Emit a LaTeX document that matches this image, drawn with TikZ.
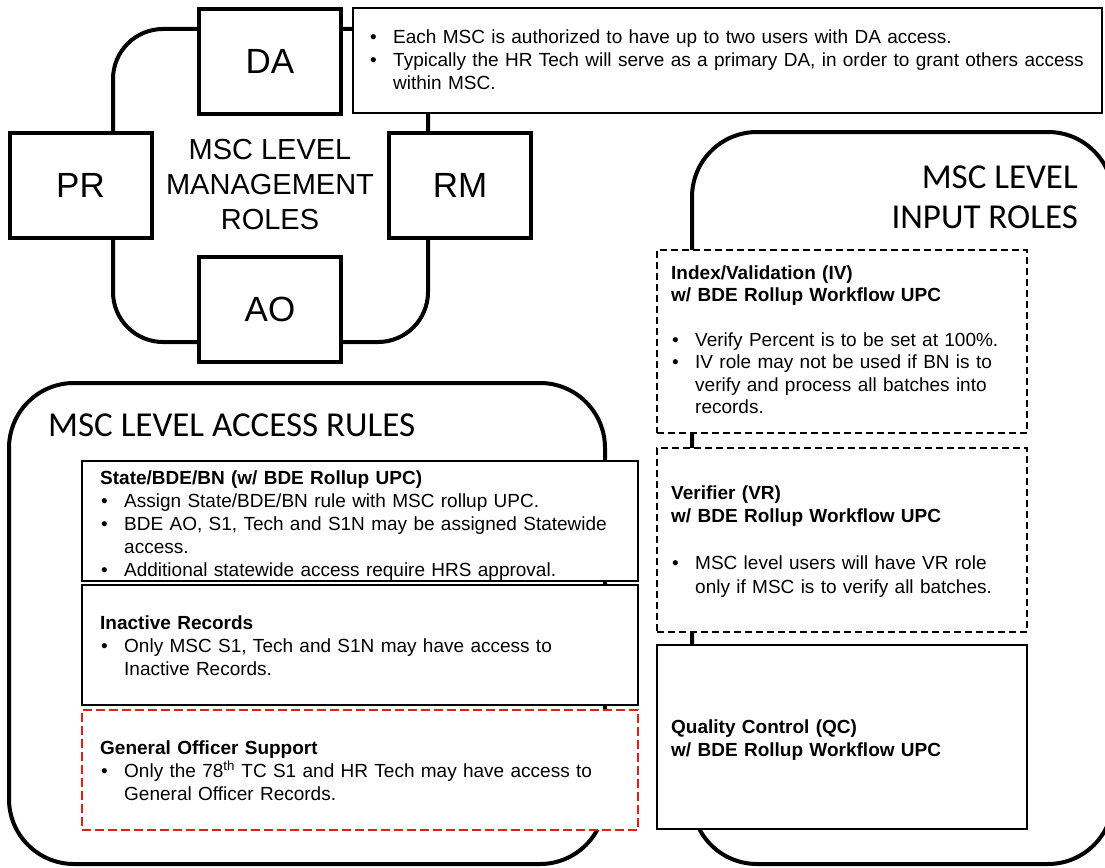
\documentclass[tikz,border=0pt]{standalone}
\usepackage{fontspec}
\setmainfont{Liberation Sans}
\newfontfamily\calfont{Carlito}
\definecolor{gored}{RGB}{228,28,28}
% bullet item with hanging indent (ends its own paragraph)
\newcommand\bl[1]{\hangindent=24pt\hangafter=1\noindent\makebox[24pt][l]{\hspace{1pt}\textbullet}#1\par}
\begin{document}
\begin{tikzpicture}[x=1pt,y=-1pt,
  frame/.style={draw, line width=4pt, inner sep=0pt, outer sep=0pt, anchor=north west},
  role/.style={draw, line width=4pt, fill=white, minimum width=142pt, minimum height=105pt,
    inner sep=0pt, outer sep=0pt, font=\fontsize{35}{40}\selectfont},
  panel/.style={draw, line width=1.8pt, fill=white, inner sep=0pt, outer sep=0pt, anchor=north west},
  dashpanel/.style={panel, line width=1.5pt, dash pattern=on 7pt off 4pt},
  redpanel/.style={panel, draw=gored, line width=1.8pt, dash pattern=on 9pt off 4pt},
  body/.style={anchor=base west, inner sep=0pt, align=left, font=\fontsize{19}{23}\selectfont},
  bigtitle/.style={inner sep=0pt, font=\calfont\fontsize{35}{40}\selectfont}]
\useasboundingbox (0,0) rectangle (1105,867);
\clip (0,0) rectangle (1105,867);

% rounded frames
\node[frame, rounded corners=50pt, minimum width=315pt, minimum height=313pt] (mgmt) at (113,29) {};
\node[frame, rounded corners=65pt, minimum width=421pt, minimum height=732pt] (input) at (692,132) {};
\node[frame, rounded corners=65pt, minimum width=596pt, minimum height=481pt] (access) at (9,383) {};

% management roles
\node[role] (DA) at (270,61.5) {DA};
\node[role] (PR) at (80.5,185) {PR};
\node[role] (RM) at (460,185) {RM};
\node[role] (AO) at (270,309.5) {AO};
\node[inner sep=0pt, align=center, font=\fontsize{29}{35}\selectfont] (mgmttitle) at (270,185)
  {MSC LEVEL\\MANAGEMENT\\ROLES};

% DA note
\node[panel, line width=1.5pt, minimum width=749pt, minimum height=105pt] (note) at (353,8) {};
\node[body, text width=728pt] (notetxt) at (369,44)
  {\bl{Each MSC is authorized to have up to two users with DA access.}
   \bl{Typically the HR Tech will serve as a primary DA, in order to grant others access\newline within MSC.}};

% input roles
\node[bigtitle, anchor=east, align=right] (inputtitle) at (1078,197) {MSC LEVEL\\INPUT ROLES};
\node[dashpanel, minimum width=370pt, minimum height=183pt] (IV) at (657,250) {};
\node[dashpanel, minimum width=370pt, minimum height=184pt] (VR) at (657,448) {};
\node[panel, minimum width=370pt, minimum height=184pt] (QC) at (657,645) {};
\node[body, text width=350pt, font=\fontsize{19}{22.5}\selectfont] (IVtxt) at (671,279)
  {{\bfseries Index/Validation (IV)\newline w/ BDE Rollup Workflow UPC}\par\vspace{22pt}
   \bl{Verify Percent is to be set at 100\%.}
   \bl{IV role may not be used if BN is to\newline verify and process all batches into\newline records.}};
\node[body, text width=350pt, font=\fontsize{19}{23.5}\selectfont] (VRtxt) at (671,499)
  {{\bfseries Verifier (VR)\newline w/ BDE Rollup Workflow UPC}\par\vspace{23.5pt}
   \bl{MSC level users will have VR role\newline only if MSC is to verify all batches.}};
\node[body, text width=350pt] (QCtxt) at (671,733)
  {{\bfseries Quality Control (QC)\newline w/ BDE Rollup Workflow UPC}};

% access rules
\node[bigtitle, anchor=base west] (accesstitle) at (48,436) {MSC LEVEL ACCESS RULES};
\node[panel, minimum width=556pt, minimum height=120pt] (state) at (82,461) {};
\node[panel, minimum width=556pt, minimum height=120pt] (inactive) at (82,585) {};
\node[redpanel, fill=white, minimum width=556pt, minimum height=120pt] (GO) at (82,710) {};
\node[body, text width=530pt] (statetxt) at (100,484)
  {{\bfseries State/BDE/BN (w/ BDE Rollup UPC)}\par
   \bl{Assign State/BDE/BN rule with MSC rollup UPC.}
   \bl{BDE AO, S1, Tech and S1N may be assigned Statewide\newline access.}
   \bl{Additional statewide access require HRS approval.}};
\node[body, text width=530pt] (inactivetxt) at (100,629)
  {{\bfseries Inactive Records}\par
   \bl{Only MSC S1, Tech and S1N may have access to\newline Inactive Records.}};
\node[body, text width=530pt] (GOtxt) at (100,754)
  {{\bfseries General Officer Support}\par
   \bl{Only the 78\textsuperscript{th} TC S1 and HR Tech may have access to\newline General Officer Records.}};
\end{tikzpicture}
\end{document}
